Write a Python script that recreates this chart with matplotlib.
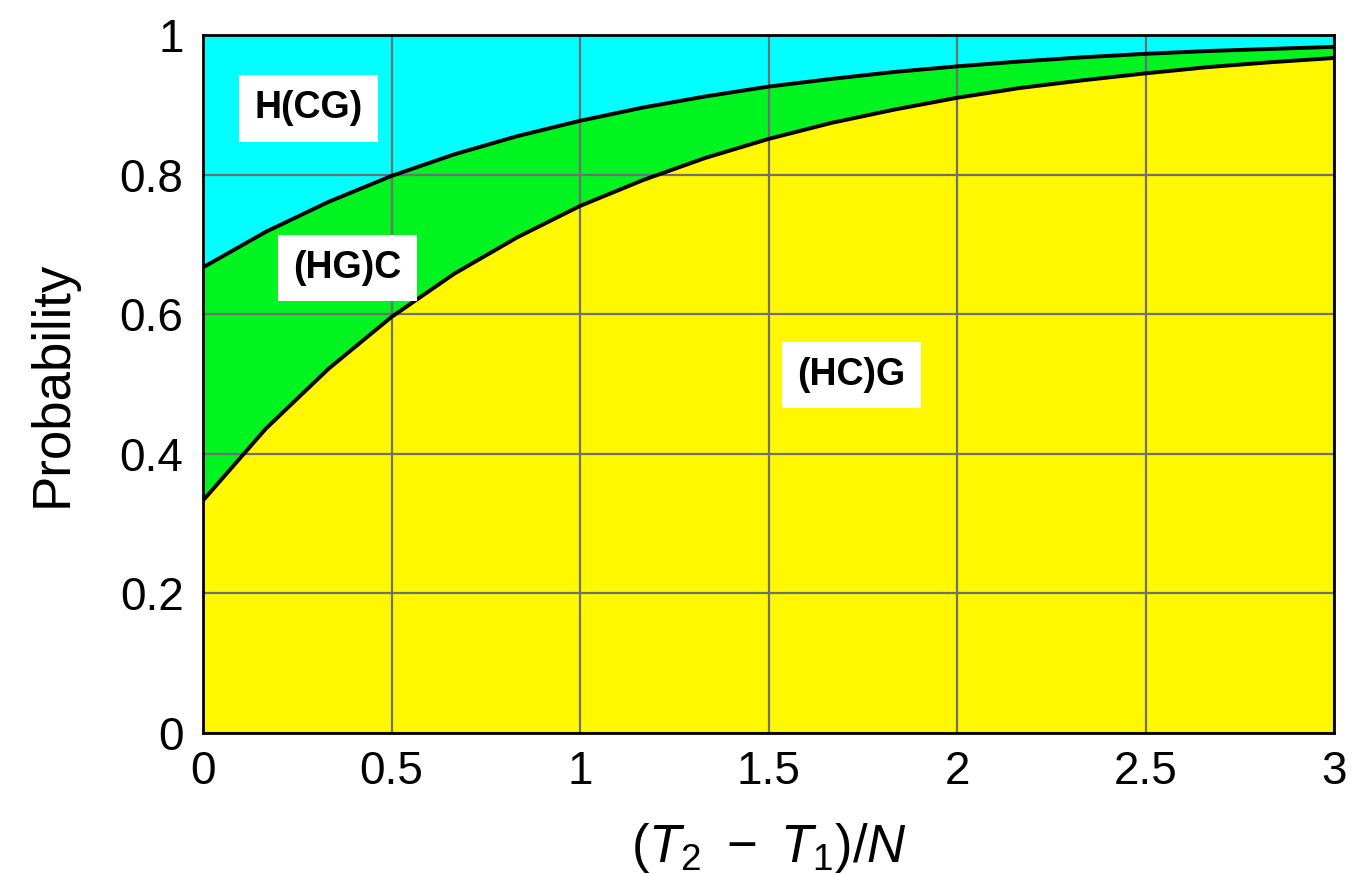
import numpy as np
import matplotlib.pyplot as plt

plt.rcParams['font.family'] = ['Liberation Sans', 'DejaVu Sans']
plt.rcParams['mathtext.fontset'] = 'custom'
plt.rcParams['mathtext.rm'] = 'Liberation Sans'
plt.rcParams['mathtext.it'] = 'Liberation Sans:italic'

# time points (T2 - T1)/N, read at 1/6 steps
t = [0, 1/6, 2/6, 3/6, 4/6, 5/6, 1, 7/6, 8/6, 9/6, 10/6, 11/6, 2,
     13/6, 14/6, 15/6, 16/6, 17/6, 3]
# upper edge of (HC)G region
p_hc = [0.333, 0.436, 0.522, 0.596, 0.658, 0.710, 0.755, 0.792, 0.824, 0.851,
        0.874, 0.893, 0.910, 0.924, 0.935, 0.945, 0.954, 0.961, 0.967]
# upper edge of (HG)C region
p_hg = [0.667, 0.718, 0.761, 0.798, 0.829, 0.855, 0.877, 0.896, 0.912, 0.926,
        0.937, 0.947, 0.955, 0.962, 0.968, 0.973, 0.977, 0.980, 0.983]

labels = ["H(CG)", "(HG)C", "(HC)G"]
label_pos = [(0.279, 0.895), (0.382, 0.666), (1.719, 0.513)]

fig = plt.figure(figsize=(13.67, 8.74), dpi=100)
ax = fig.add_axes([0.1485, 0.1613, 0.8274, 0.7987])

ax.fill_between(t, 0, p_hc, color="#FFF800", lw=0, zorder=1)
ax.fill_between(t, p_hc, p_hg, color="#00F41F", lw=0, zorder=1)
ax.fill_between(t, p_hg, 1, color="#00FFFF", lw=0, zorder=1)

ax.grid(True, color="#707070", lw=1.6, zorder=2)
ax.set_axisbelow(False)

ax.plot(t, p_hc, color="black", lw=2.8, zorder=3)
ax.plot(t, p_hg, color="black", lw=2.8, zorder=3)

for lab, (x, y) in zip(labels, label_pos):
    ax.text(x, y, lab, fontsize=27, fontweight="bold", ha="center", va="center",
            zorder=4, bbox=dict(facecolor="white", edgecolor="none", pad=11))

ax.set_xlim(0, 3)
ax.set_ylim(0, 1)
ax.set_xticks([0, 0.5, 1, 1.5, 2, 2.5, 3])
ax.set_xticklabels(["0", "0.5", "1", "1.5", "2", "2.5", "3"])
ax.set_yticks([0, 0.2, 0.4, 0.6, 0.8, 1])
ax.set_yticklabels(["0", "0.2", "0.4", "0.6", "0.8", "1"])
ax.tick_params(length=0, labelsize=33)
ax.tick_params(axis="x", pad=12)
ax.tick_params(axis="y", pad=14)

for s in ax.spines.values():
    s.set_linewidth(2)
    s.set_zorder(5)

ax.set_xlabel(r"$(\mathit{T}_{2}\ -\ \mathit{T}_{1})/\mathit{N}$", fontsize=38, labelpad=20)
ax.set_ylabel("Probability", fontsize=38, labelpad=30)

fig.savefig("out.png", dpi=100)
